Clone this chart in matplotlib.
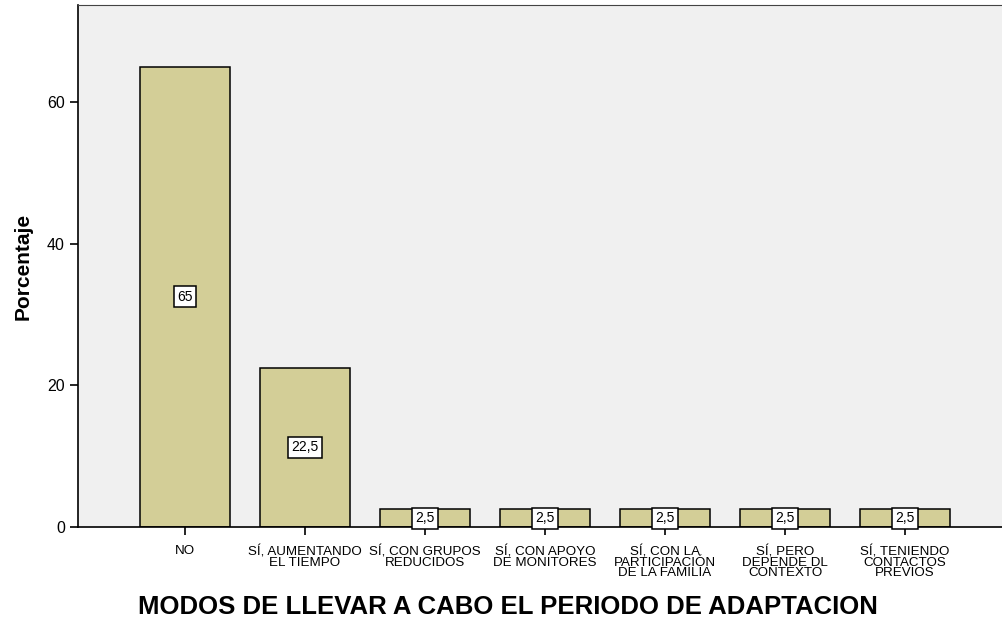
import matplotlib
matplotlib.use("Agg")
import matplotlib.pyplot as plt

plt.rcParams["font.family"] = ["Liberation Sans", "DejaVu Sans"]

categories = [
    "NO",
    "SÍ, AUMENTANDO\nEL TIEMPO",
    "SÍ, CON GRUPOS\nREDUCIDOS",
    "SÍ, CON APOYO\nDE MONITORES",
    "SÍ, CON LA\nPARTICIPACIÓN\nDE LA FAMILIA",
    "SÍ, PERO\nDEPENDE DL\nCONTEXTO",
    "SÍ, TENIENDO\nCONTACTOS\nPREVIOS",
]
percentages = [65, 22.5, 2.5, 2.5, 2.5, 2.5, 2.5]
value_labels = ["65", "22,5", "2,5", "2,5", "2,5", "2,5", "2,5"]
y_ticks = [0, 20, 40, 60]

fig = plt.figure(figsize=(10.02, 6.25), dpi=100)
ax = fig.add_axes([0.0778, 0.1568, 0.9222, 0.8352])
ax.set_facecolor("#F0F0F0")

x = list(range(len(categories)))
ax.bar(x, percentages, width=0.75, color="#D3CE97", edgecolor="black", linewidth=1.1)

for xi, v, lab in zip(x, percentages, value_labels):
    ax.text(xi, v / 2, lab, ha="center", va="center", fontsize=10,
            bbox=dict(boxstyle="square,pad=0.25", facecolor="white", edgecolor="black", linewidth=1.1))

ax.set_xlim(-0.892, 6.808)
ax.set_ylim(0, 73.7)
ax.set_yticks(y_ticks)
ax.set_xticks(x)
ax.set_xticklabels(categories, fontsize=9.6, linespacing=0.85)
ax.tick_params(axis="y", labelsize=11.5, length=6, width=1.2)
ax.tick_params(axis="x", length=6, width=1.2, pad=7)

ax.spines["right"].set_visible(False)
ax.spines["top"].set_color("#444444")
ax.spines["left"].set_linewidth(1.2)
ax.spines["bottom"].set_linewidth(1.2)

ax.set_ylabel("Porcentaje", fontsize=15, fontweight="bold", labelpad=10)
fig.text(508 / 1002, 0.01, "MODOS DE LLEVAR A CABO EL PERIODO DE ADAPTACION",
         ha="center", va="bottom", fontsize=18.5, fontweight="bold")

fig.savefig("out.png", dpi=100)
